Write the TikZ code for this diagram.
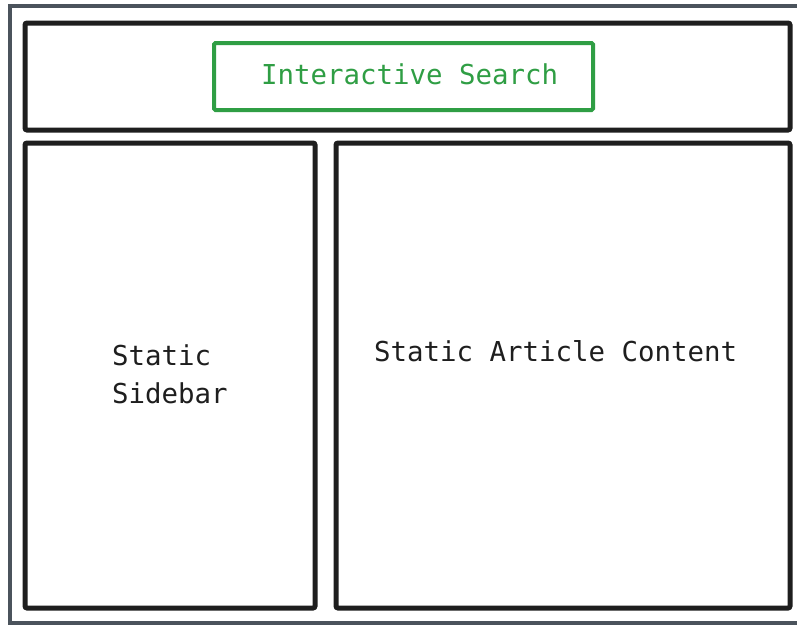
\documentclass[tikz,border=0pt]{standalone}
\usepackage{fontspec}
\setmonofont{DejaVu Sans Mono}
\definecolor{frame}{HTML}{4B535C}
\definecolor{ink}{HTML}{1E1E1E}
\definecolor{xgreen}{HTML}{2F9E44}
\tikzset{
  panel/.style={draw=ink, line width=5pt, rounded corners=2pt, inner sep=0pt, outer sep=0pt, fill=white},
  searchbox/.style={draw=xgreen, line width=4pt, rounded corners=1.5pt, inner sep=0pt, outer sep=0pt},
  lbl/.style={font=\ttfamily\fontsize{27.4}{38}\selectfont, inner sep=0pt, anchor=base west},
}
\begin{document}
\begin{tikzpicture}[x=1pt,y=-1pt]
\useasboundingbox (0,0) rectangle (797,625);
\fill[white] (0,0) rectangle (797,625);
\draw[frame, line width=4pt] (10,6) rectangle (805,623);
\node[panel, minimum width=765pt, minimum height=107pt] (top) at (407.5,76.5) {};
\node[panel, minimum width=290pt, minimum height=465pt] (side) at (170,375.5) {};
\node[panel, minimum width=454pt, minimum height=465pt] (article) at (563,375.5) {};
\node[searchbox, minimum width=379pt, minimum height=67pt] (search) at (403.5,76.5) {};
\node[lbl, text=xgreen] (searchtext) at (261,84) {Interactive Search};
\node[lbl, text=ink] (sidetext1) at (112,365) {Static};
\node[lbl, text=ink] (sidetext2) at (112,403) {Sidebar};
\node[lbl, text=ink] (articletext) at (374,361) {Static Article Content};
\end{tikzpicture}
\end{document}
